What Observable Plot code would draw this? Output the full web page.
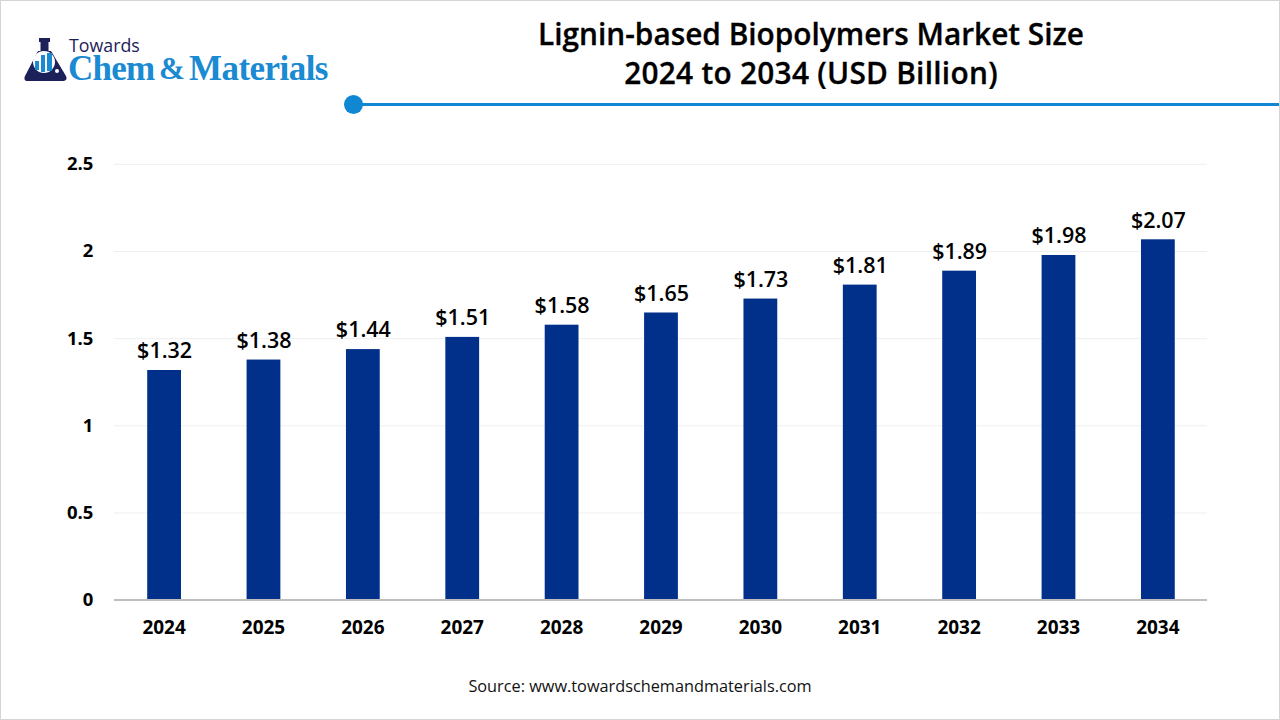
<!DOCTYPE html>
<html>
<head>
<meta charset="utf-8">
<script src="https://cdn.jsdelivr.net/npm/d3@7"></script>
<script src="https://cdn.jsdelivr.net/npm/@observablehq/plot@0.6"></script>
<style>
  html, body { margin: 0; padding: 0; background: #fff; }
  #page { position: relative; width: 1280px; height: 720px; overflow: hidden; box-sizing: border-box;
    border: 1px solid #d4d4d4; font-family: "Open Sans", sans-serif; }
  #chart { position: absolute; left: -1px; top: -1px; }
  #title { position: absolute; left: 310px; width: 1000px; top: 13px; text-align: center; font-size: 29.8px;
    line-height: 39px; font-weight: 600; color: #000; -webkit-text-stroke: 0.3px #000; }
  #title span { letter-spacing: 0.28px; }
  #rule { position: absolute; left: 352px; right: 0; top: 102px; height: 3px; background: #0f87d2; }
  #dot { position: absolute; left: 343px; top: 94px; width: 19px; height: 19px; border-radius: 50%; background: #0f87d2; }
  #source { position: absolute; left: 0; width: 1278px; top: 674px; text-align: center; font-size: 16.3px; color: #111; }
  #towards { position: absolute; left: 68px; top: 36px; font-size: 17.8px; line-height: 16px; color: #1d2159; }
  .brand { position: absolute; top: 57px; font-family: "Liberation Serif", serif; font-weight: 700;
    font-size: 35px; line-height: 22px; color: #1a8ad2; white-space: nowrap; }
  #brand1 { left: 67px; letter-spacing: -0.8px; }
  #brand2 { left: 158px; font-size: 31px; }
  #brand3 { left: 188px; letter-spacing: -0.55px; }
  #flask { position: absolute; left: 23px; top: 36px; }
</style>
</head>
<body>
<div id="page">
  <div id="chart"></div>
  <svg id="flask" width="44" height="46" viewBox="0 0 44 46">
    <rect x="15" y="1" width="11" height="4" fill="#1d2159"/>
    <rect x="16.5" y="5" width="8" height="9" fill="#1d2159"/>
    <path d="M14 14 L27 14 L42 39 Q44 44 38 44 L4 44 Q-1 44 1 39 Z" fill="#1d2159"/>
    <circle cx="20" cy="25" r="11" fill="#fff"/>
    <rect x="11" y="24" width="4" height="9" fill="#1a8ad2"/>
    <rect x="17" y="18" width="4" height="17" fill="#1a8ad2"/>
    <rect x="23" y="16" width="5" height="18" fill="#1a8ad2"/>
    <circle cx="33" cy="34" r="2" fill="#fff"/>
  </svg>
  <div id="towards">Towards</div>
  <div class="brand" id="brand1">Chem</div>
  <div class="brand" id="brand2">&amp;</div>
  <div class="brand" id="brand3">Materials</div>
  <div id="title">Lignin-based Biopolymers Market Size<br><span>2024 to 2034 (USD Billion)</span></div>
  <div id="rule"></div>
  <div id="dot"></div>
  <div id="source">Source: www.towardschemandmaterials.com</div>
</div>
<script>
// values
const years = ["2024", "2025", "2026", "2027", "2028", "2029", "2030", "2031", "2032", "2033", "2034"];
const sizes = [1.32, 1.38, 1.44, 1.51, 1.58, 1.65, 1.73, 1.81, 1.89, 1.98, 2.07];
const valueTicks = [0, 0.5, 1, 1.5, 2, 2.5];

const data = years.map((year, i) => ({year, size: sizes[i]}));

const chart = Plot.plot({
  width: 1280,
  height: 720,
  marginLeft: 114,
  marginRight: 72,
  marginTop: 164,
  marginBottom: 120,
  style: {fontFamily: "'Open Sans', sans-serif", background: "transparent"},
  x: {domain: years, paddingInner: 0.66, paddingOuter: 0.33, round: false, label: null, tickSize: 0},
  y: {domain: [0, 2.5], label: null, tickSize: 0},
  marks: [
    Plot.ruleY(valueTicks.filter(d => d > 0), {stroke: "#efefef", strokeWidth: 1}),
    Plot.barY(data, {x: "year", y: "size", fill: "#00308a", dx: 0.5, dy: 0.5}),
    Plot.ruleY([0], {stroke: "#bfbfbf", strokeWidth: 2}),
    Plot.text(data, {
      x: "year", y: "size", text: d => "$" + d.size.toFixed(2), dx: 0.5, dy: -18.5,
      fontSize: 21.5, fontWeight: 600, fill: "#000"
    }),
    Plot.axisX({
      tickSize: 0, tickPadding: 21, fontSize: 19, fontWeight: 700, fill: "#000", label: null
    }),
    Plot.axisY({
      ticks: valueTicks, tickFormat: d => String(d), tickSize: 0, tickPadding: 21,
      fontSize: 18.5, fontWeight: 700, fill: "#000", label: null
    })
  ]
});

document.getElementById("chart").append(chart);
</script>
</body>
</html>
